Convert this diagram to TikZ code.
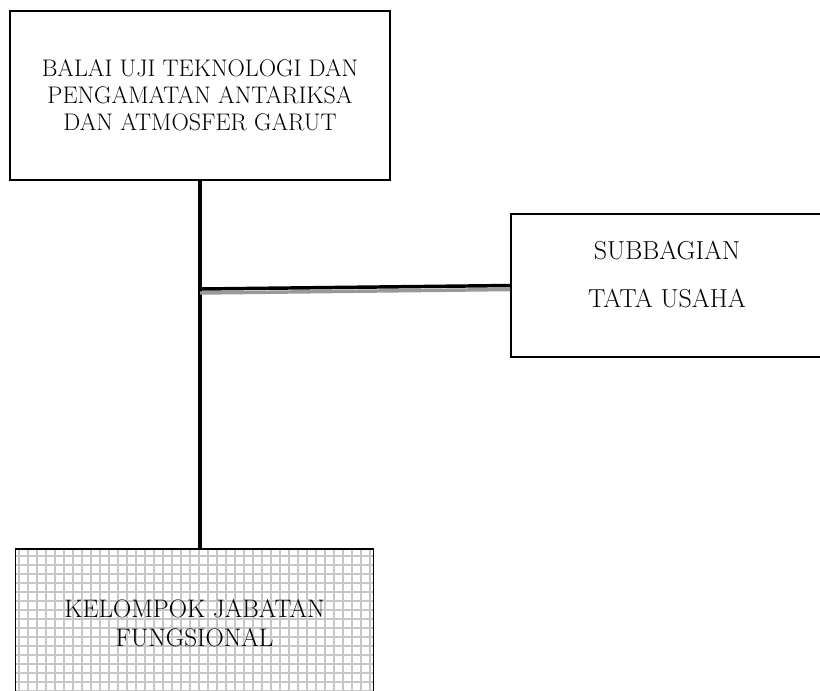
\documentclass[tikz,border=0pt]{standalone}
\usetikzlibrary{arrows.meta}
\tikzset{
  unit/.style={draw=black, line width=1.2pt, align=center, inner sep=0pt},
  tie/.style={draw=black, line width=2.6pt},
}
\begin{document}
\begin{tikzpicture}[x=0.75pt, y=-0.75pt]
\useasboundingbox (0,0) rectangle (820,690);
\node[unit, minimum width=285pt, minimum height=126.75pt,
  font=\fontsize{18}{20.25}\selectfont] (balai) at (200,95.5)
  {BALAI UJI TEKNOLOGI DAN\\PENGAMATAN ANTARIKSA\\DAN ATMOSFER GARUT};
\node[unit, minimum width=234pt, minimum height=107.25pt,
  font=\fontsize{19.5}{20}\selectfont] (tu) at (667,285.5)
  {\raisebox{0pt}[0pt][0pt]{\begin{tabular}{@{}c@{}}SUBBAGIAN\\[16pt]TATA USAHA\end{tabular}}};
\node[unit, minimum width=268.5pt, minimum height=111pt,
  font=\fontsize{19}{21.75}\selectfont,
  path picture={\draw[black!22, line width=1.4pt, step=6.75pt]
    (path picture bounding box.south west) grid (path picture bounding box.north east);}]
  (jf) at (194.5,623) {KELOMPOK JABATAN\\FUNGSIONAL};
\coordinate (tee) at (200,289);
\draw[tie] (balai.south) -- (balai.south |- jf.north);
\draw[black!40, line width=2.6pt] ([yshift=-3pt]tee) -- ([yshift=-3pt]tu.west);
\draw[tie] (tee) -- (tu.west);
\end{tikzpicture}
\end{document}
